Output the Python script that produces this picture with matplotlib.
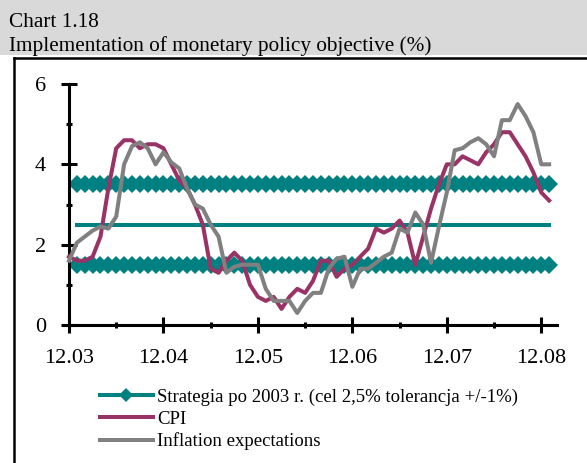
import matplotlib
matplotlib.use("Agg")
import matplotlib.pyplot as plt
from matplotlib.lines import Line2D
from matplotlib.patches import Rectangle
import numpy as np

plt.rcParams['font.family'] = ['Liberation Serif', 'DejaVu Serif']

# ---- data (monthly, from 12.03) ----
cpi = [1.7, 1.6, 1.6, 1.7, 2.2, 3.4, 4.4, 4.6, 4.6, 4.4, 4.5, 4.5,
       4.4, 4.0, 3.6, 3.4, 3.0, 2.5, 1.4, 1.3, 1.6, 1.8, 1.6, 1.0,
       0.7, 0.6, 0.7, 0.4, 0.7, 0.9, 0.8, 1.1, 1.6, 1.6, 1.2, 1.4,
       1.5, 1.7, 1.9, 2.4, 2.3, 2.4, 2.6, 2.3, 1.5, 2.2, 2.9, 3.5,
       4.0, 4.0, 4.2, 4.1, 4.0, 4.3, 4.5, 4.8, 4.8, 4.5, 4.2, 3.8,
       3.3, 3.1]
expectations = [1.6, 2.05, 2.2, 2.35, 2.45, 2.4, 2.7, 4.0, 4.45, 4.55, 4.4, 4.0,
                4.3, 4.05, 3.9, 3.4, 3.0, 2.9, 2.5, 2.2, 1.3, 1.45, 1.5, 1.5,
                1.5, 0.9, 0.6, 0.6, 0.6, 0.3, 0.6, 0.8, 0.8, 1.4, 1.65, 1.7,
                0.95, 1.4, 1.4, 1.55, 1.7, 1.8, 2.4, 2.3, 2.8, 2.5, 1.55, 2.45,
                3.3, 4.35, 4.4, 4.55, 4.65, 4.5, 4.2, 5.1, 5.1, 5.5, 5.2, 4.8,
                4.0, 4.0]
target = 2.5
tolerance = 1.0
target_start = 1  # strategy series starts one month after 12.03
tick_labels = ["12.03", "12.04", "12.05", "12.06", "12.07", "12.08"]
series_names = ["Strategia po 2003 r. (cel 2,5% tolerancja +/-1%)", "CPI",
                "Inflation expectations"]

months = np.arange(len(cpi))
tmonths = np.arange(target_start, len(cpi))
n_t = len(tmonths)

TEAL = '#008080'
MAROON = '#993366'
GRAY = '#808080'

W, H = 587, 463
fig = plt.figure(figsize=(W / 100, H / 100), dpi=100)
fig.patch.set_facecolor('white')

# grey title band
fig.patches.append(Rectangle((0, 1 - 55 / H), 1, 55 / H, transform=fig.transFigure,
                             facecolor='#d9d9d9', edgecolor='none', zorder=0))
fig.text(9 / W, 1 - 27 / H, "Chart 1.18", fontsize=15.3, va='baseline', ha='left')
fig.text(9 / W, 1 - 51 / H, "Implementation of monetary policy objective (%)",
         fontsize=15.3, va='baseline', ha='left')

# box border
fig.add_artist(Line2D([14 / W, 14 / W], [1 - 58 / H, 0], transform=fig.transFigure,
                      color='black', lw=1.8, solid_capstyle='projecting'))
fig.add_artist(Line2D([14 / W, 1.0], [1 - 58 / H, 1 - 58 / H], transform=fig.transFigure,
                      color='black', lw=1.8, solid_capstyle='projecting'))

ax_l, ax_r = 69 / W, 557 / W
ax_b, ax_t = 1 - 325 / H, 1 - 84 / H
ax = fig.add_axes([ax_l, ax_b, ax_r - ax_l, ax_t - ax_b])
ax.set_facecolor('none')

lw = 2.9
msz = 9.5
ax.plot(tmonths, [target + tolerance] * n_t, color=TEAL, lw=lw, marker='D',
        markersize=msz, markeredgewidth=0, zorder=2, clip_on=False)
ax.plot(tmonths, [target - tolerance] * n_t, color=TEAL, lw=lw, marker='D',
        markersize=msz, markeredgewidth=0, zorder=2, clip_on=False)
ax.plot(tmonths, [target] * n_t, color=TEAL, lw=lw, zorder=2, clip_on=False)
ax.plot(months, cpi, color=MAROON, lw=lw, zorder=3, clip_on=False)
ax.plot(months, expectations, color=GRAY, lw=lw, zorder=4, clip_on=False)

ax.set_xlim(0, 62)
ax.set_ylim(0, 6)
for s in ['top', 'right']:
    ax.spines[s].set_visible(False)
for s in ['left', 'bottom']:
    ax.spines[s].set_linewidth(2.2)
ax.spines['bottom'].set_bounds(0, 62)

ax.set_yticks([0, 2, 4, 6])
ax.set_yticks([1, 3, 5], minor=True)
ax.set_xticks(np.arange(0, 61, 12))
ax.set_xticks(np.arange(6, 61, 12), minor=True)
ax.set_xticklabels(tick_labels)
ax.tick_params(axis='both', which='major', direction='inout', length=11, width=2.2,
               labelsize=16, color='black')
ax.tick_params(axis='both', which='minor', direction='inout', length=5, width=2.2,
               color='black')
ax.tick_params(axis='y', which='major', pad=11)
ax.tick_params(axis='x', which='major', pad=12)

handles = [
    Line2D([], [], color=TEAL, lw=lw, marker='D', markersize=msz * 0.8, markeredgewidth=0),
    Line2D([], [], color=MAROON, lw=lw),
    Line2D([], [], color=GRAY, lw=lw),
]
fig.legend(handles, series_names, loc='center left',
           bbox_to_anchor=(100 / W, 1 - 419.5 / H), frameon=False, fontsize=13.5,
           handlelength=2.8, handletextpad=0.25, labelspacing=0.25,
           borderpad=0, borderaxespad=0, numpoints=1)

fig.savefig('out.png', dpi=100, facecolor='white')
